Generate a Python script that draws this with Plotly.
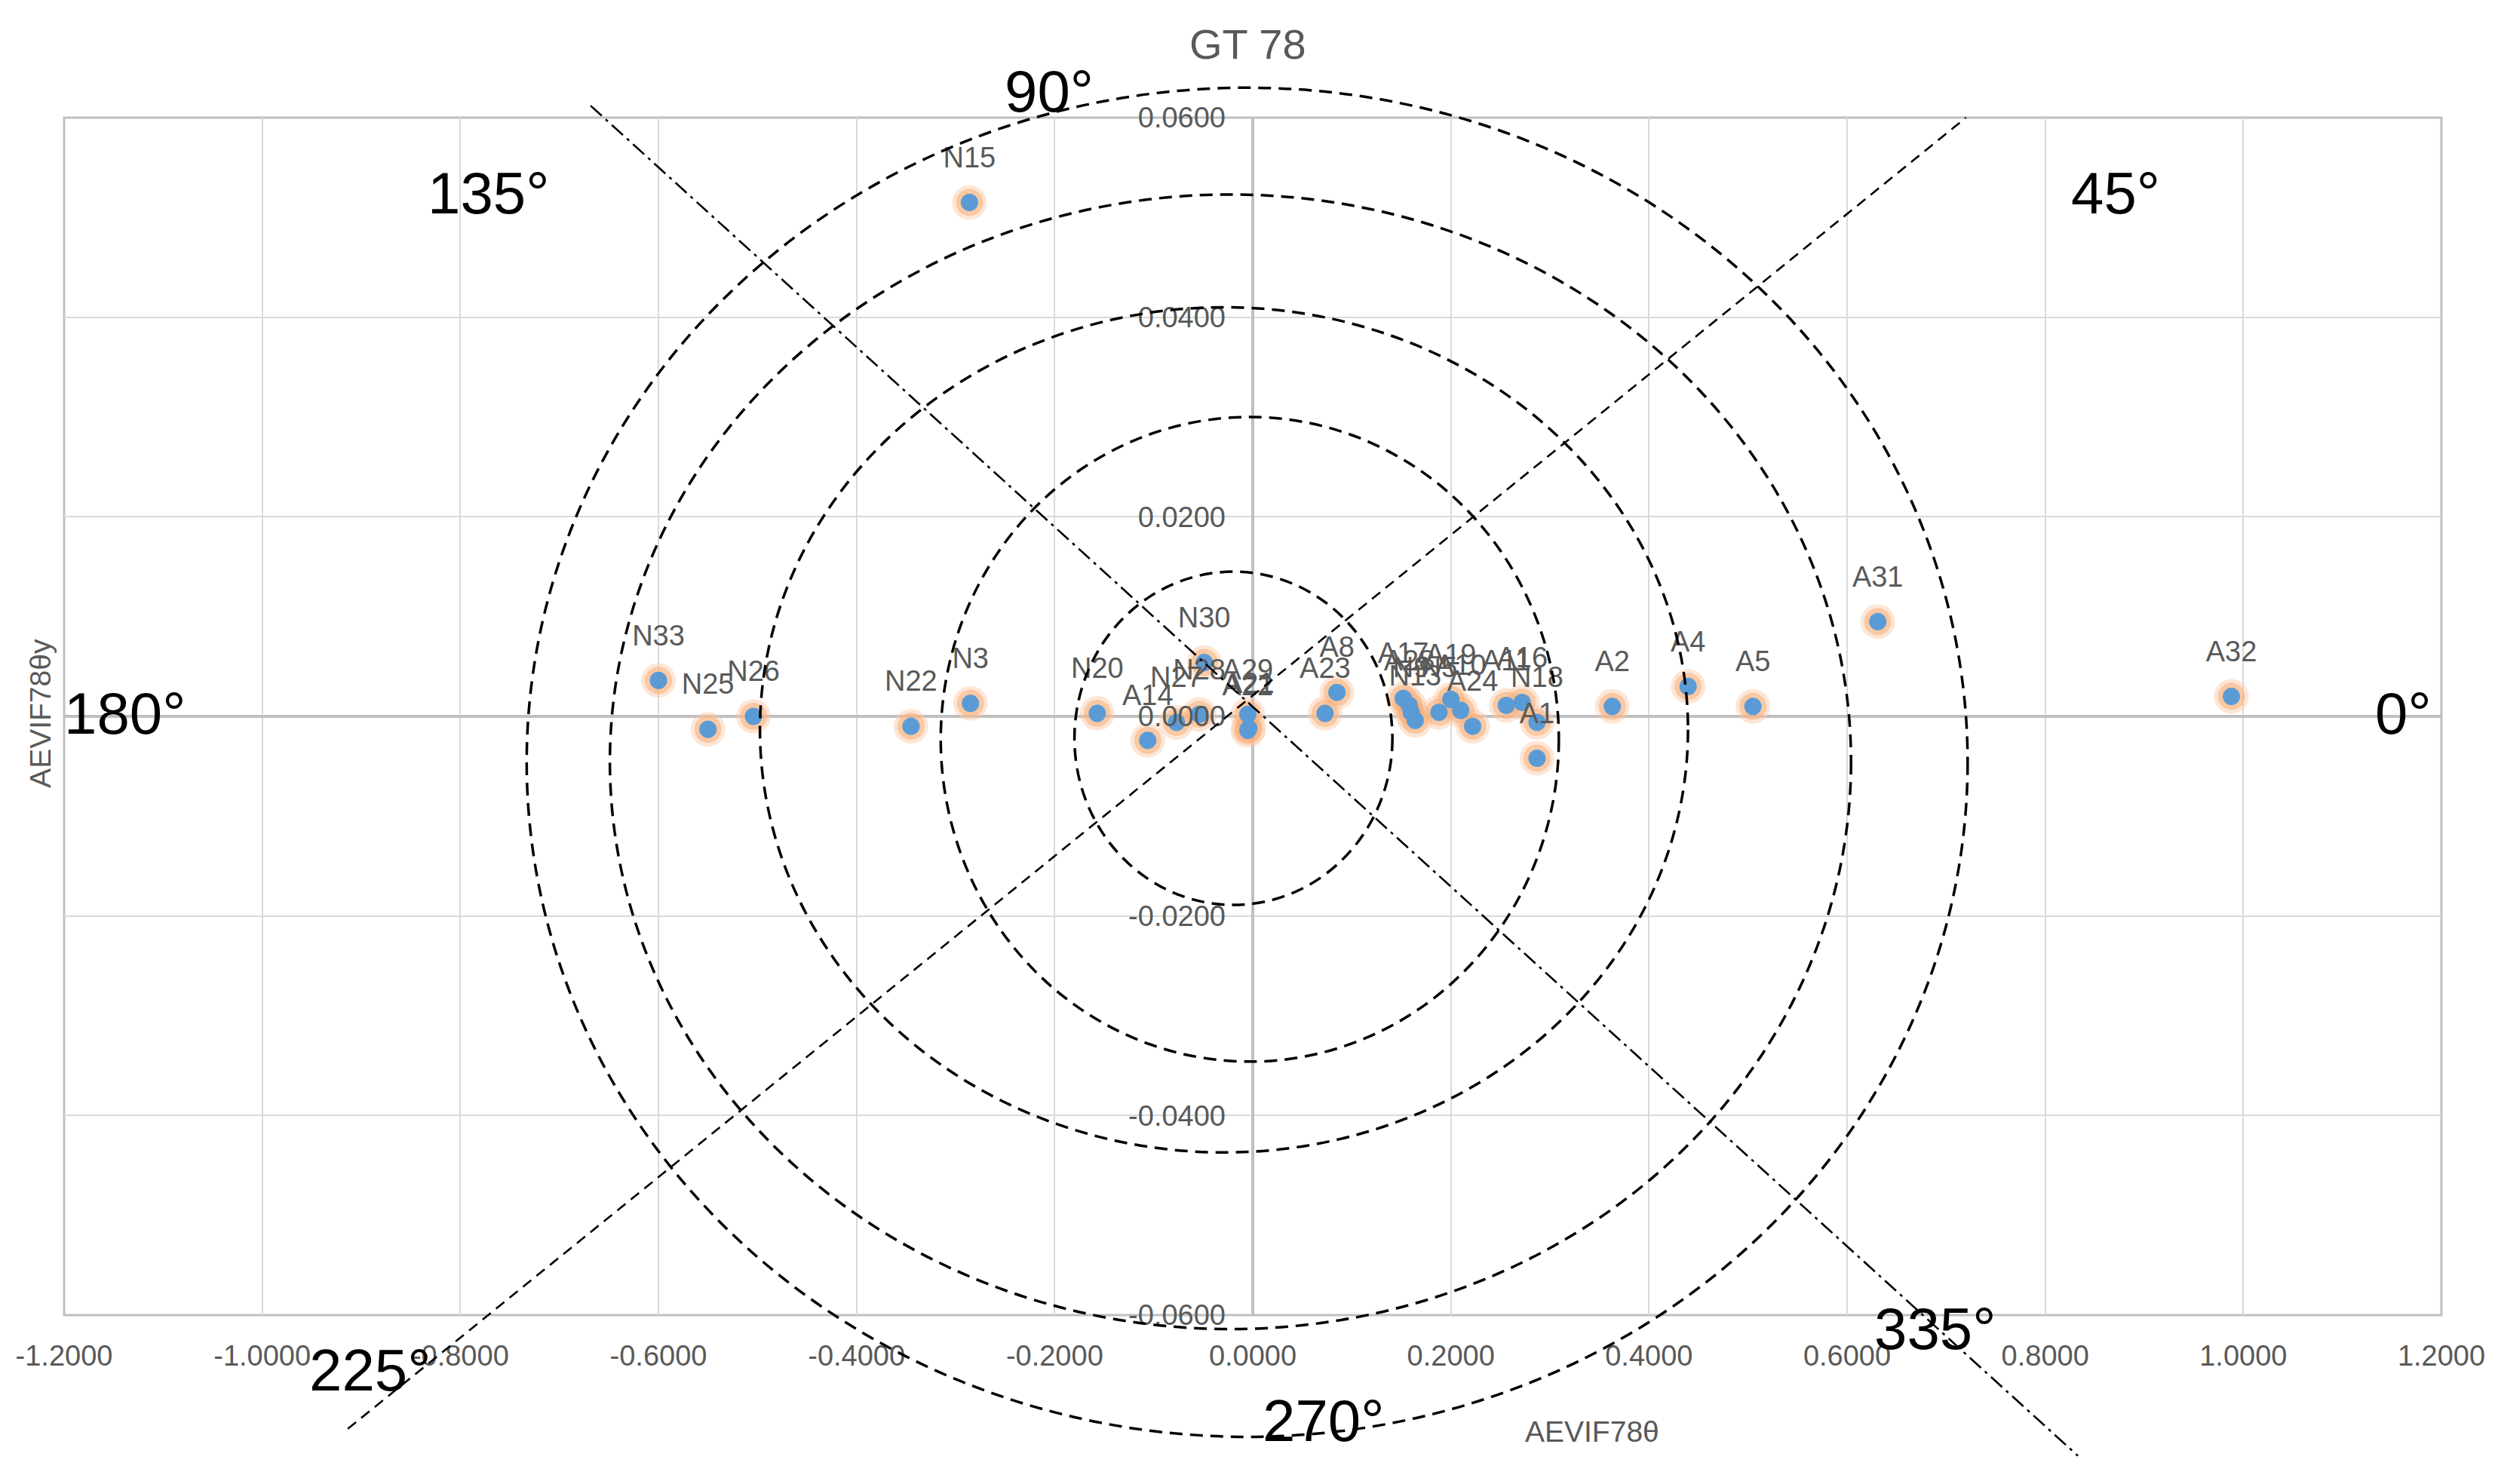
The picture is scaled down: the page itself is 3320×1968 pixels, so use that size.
import plotly.graph_objects as go

# ---------------- data ----------------
names = ["N15", "N33", "N25", "N26", "N22", "N3", "N20", "A14", "N27", "N28", "N30",
         "A29", "A22", "A21", "A23", "A8", "A17", "A28", "N9", "N13", "N5", "A19",
         "A10", "A24", "A11", "A16", "N18", "A1", "A2", "A4", "A5", "A31", "A32"]
x_vals = [-0.286, -0.600, -0.550, -0.504, -0.345, -0.285, -0.157, -0.106, -0.077, -0.054, -0.049,
          -0.005, -0.005, -0.004, 0.073, 0.085, 0.152, 0.158, 0.160, 0.164, 0.188, 0.200,
          0.210, 0.222, 0.256, 0.272, 0.287, 0.287, 0.363, 0.4395, 0.505, 0.631, 0.988]
y_vals = [0.0515, 0.0036, -0.0013, 0.0000, -0.0010, 0.0013, 0.0003, -0.0024, -0.0006, 0.0002, 0.0054,
          0.0002, -0.0014, -0.0012, 0.0003, 0.0024, 0.0018, 0.0011, 0.0004, -0.0004, 0.0004, 0.0017,
          0.0006, -0.0010, 0.0011, 0.0014, -0.0006, -0.0042, 0.0010, 0.0030, 0.0010, 0.0095, 0.0020]

x_range = [-1.2, 1.2]
y_range = [-0.06, 0.06]
x_tick_vals = [-1.2, -1.0, -0.8, -0.6, -0.4, -0.2, 0.0, 0.2, 0.4, 0.6, 0.8, 1.0, 1.2]
x_tick_text = ["-1.2000", "-1.0000", "-0.8000", "-0.6000", "-0.4000", "-0.2000", "0.0000",
               "0.2000", "0.4000", "0.6000", "0.8000", "1.0000", "1.2000"]
y_tick_vals = [-0.06, -0.04, -0.02, 0.0, 0.02, 0.04, 0.06]
y_tick_text = ["-0.0600", "-0.0400", "-0.0200", "0.0000", "0.0200", "0.0400", "0.0600"]

# guide rings (data units: left, right, bottom, top)
ring_left = [-0.180, -0.315, -0.4975, -0.649, -0.733]
ring_right = [0.141, 0.309, 0.4394, 0.604, 0.7217]
ring_bottom = [-0.0189, -0.0346, -0.0437, -0.0614, -0.0722]
ring_top = [0.0145, 0.0300, 0.0410, 0.0523, 0.0630]

# guide diagonals (data units)
diag_x0 = [-0.9136, -0.6685]
diag_y0 = [-0.0714, 0.0612]
diag_x1 = [0.720, 0.833]
diag_y1 = [0.0600, -0.0741]
diag_dash = ["14px,9px", "20px,7px,4px,7px"]

angle_text = ["90°", "135°", "45°", "180°", "0°", "225°", "270°", "335°"]
angle_px = [0.4143, 0.1786, 0.8629, 0.0254, 0.9841, 0.1288, 0.5298, 0.7871]
angle_py = [1.0220, 0.9370, 0.9370, 0.5025, 0.5025, -0.0460, -0.0882, -0.0113]

FONT = "Liberation Sans, Arial, sans-serif"
GREY = "#595959"


def to_px(v):
    return (v - x_range[0]) / (x_range[1] - x_range[0])


def to_py(v):
    return (v - y_range[0]) / (y_range[1] - y_range[0])


fig = go.Figure()
fig.add_trace(go.Scatter(x=x_vals, y=y_vals, mode="markers", hoverinfo="skip",
                         marker=dict(size=46, color="rgba(250,200,165,0.45)", line=dict(width=0))))
fig.add_trace(go.Scatter(x=x_vals, y=y_vals, mode="markers", hoverinfo="skip",
                         marker=dict(size=36, color="rgba(247,175,120,0.55)", line=dict(width=0))))
fig.add_trace(go.Scatter(x=x_vals, y=y_vals, mode="markers",
                         marker=dict(size=23, color="#5b9bd5", line=dict(width=0))))
fig.add_trace(go.Scatter(x=x_vals, y=y_vals, mode="markers+text", text=names,
                         textposition="top center", hoverinfo="skip",
                         textfont=dict(family=FONT, size=38, color=GREY),
                         marker=dict(size=58, color="rgba(0,0,0,0)", line=dict(width=0))))

shapes = []
for l, r, b, t in zip(ring_left, ring_right, ring_bottom, ring_top):
    shapes.append(dict(type="circle", xref="paper", yref="paper",
                       x0=to_px(l), x1=to_px(r), y0=to_py(b), y1=to_py(t),
                       line=dict(color="black", width=3.5, dash="17px,10px"), layer="above"))
for x0, y0, x1, y1, d in zip(diag_x0, diag_y0, diag_x1, diag_y1, diag_dash):
    shapes.append(dict(type="line", xref="paper", yref="paper",
                       x0=to_px(x0), y0=to_py(y0), x1=to_px(x1), y1=to_py(y1),
                       line=dict(color="black", width=2.6, dash=d), layer="above"))
shapes.append(dict(type="rect", xref="paper", yref="paper", x0=0, x1=1, y0=0, y1=1,
                   line=dict(color="#bfbfbf", width=3), layer="below"))

annotations = []
for t, ax_, ay_ in zip(angle_text, angle_px, angle_py):
    annotations.append(dict(text=t, x=ax_, y=ay_, xref="paper", yref="paper", showarrow=False,
                            xanchor="center", yanchor="middle",
                            font=dict(family=FONT, size=78, color="black")))
annotations.append(dict(text="GT 78", x=0.4978, y=1.0611, xref="paper", yref="paper",
                        showarrow=False, xanchor="center", yanchor="middle",
                        font=dict(family=FONT, size=56, color=GREY)))
annotations.append(dict(text="AEVIF78θ", x=0.6428, y=-0.0976, xref="paper", yref="paper",
                        showarrow=False, xanchor="center", yanchor="middle",
                        font=dict(family=FONT, size=39, color=GREY)))
annotations.append(dict(text="AEVIF78θy", x=-0.0102, y=0.5025, xref="paper", yref="paper",
                        showarrow=False, xanchor="center", yanchor="middle", textangle=-90,
                        font=dict(family=FONT, size=39, color=GREY)))

fig.update_layout(
    width=3304, height=1952,
    margin=dict(l=77, r=75, t=148, b=216, autoexpand=False),
    paper_bgcolor="white", plot_bgcolor="white",
    showlegend=False,
    shapes=shapes, annotations=annotations,
    xaxis=dict(range=x_range, tickvals=x_tick_vals, ticktext=x_tick_text,
               showgrid=True, gridcolor="#d9d9d9", gridwidth=2,
               zeroline=True, zerolinecolor="#bfbfbf", zerolinewidth=4,
               showline=False, ticks="", ticklabelstandoff=28,
               tickfont=dict(family=FONT, size=38, color=GREY)),
    yaxis=dict(range=y_range, tickvals=y_tick_vals, ticktext=y_tick_text,
               anchor="free", position=0.5,
               showgrid=True, gridcolor="#d9d9d9", gridwidth=2,
               zeroline=True, zerolinecolor="#bfbfbf", zerolinewidth=4,
               showline=False, ticks="", ticklabelstandoff=36,
               tickfont=dict(family=FONT, size=38, color=GREY)),
)

fig.write_html("out.html")
